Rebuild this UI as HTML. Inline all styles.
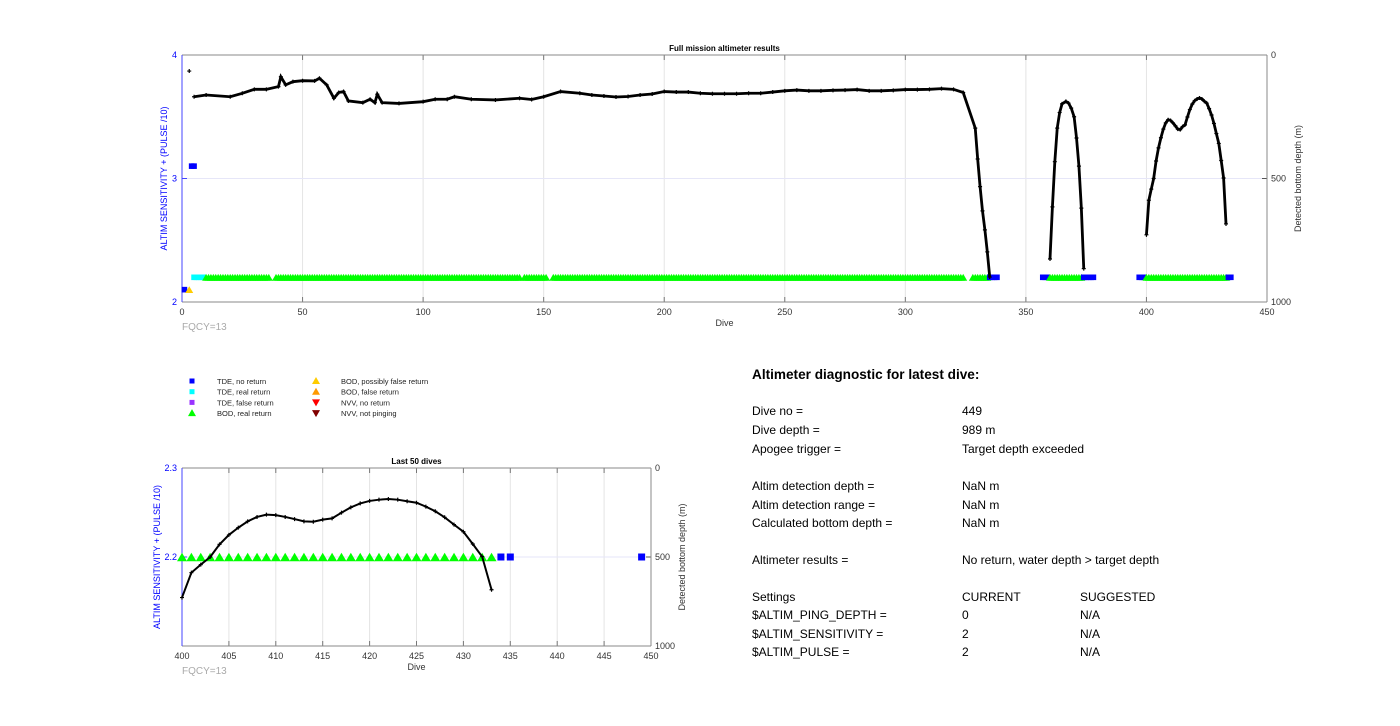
<!DOCTYPE html>
<html><head><meta charset="utf-8"><style>
body{margin:0;background:#fff;width:1400px;height:726px;overflow:hidden;font-family:"Liberation Sans",sans-serif}
svg{position:absolute;left:0;top:0}
.diag{position:absolute;font-size:12px;color:#000}
</style></head><body>
<svg id="chart" width="1400" height="726"></svg>
<div class="diag">
<div style="position:absolute;left:752px;top:367px;font-weight:bold;font-size:13.6px;white-space:nowrap">Altimeter diagnostic for latest dive:</div>
</div>
<script>
// ---- data ----
const mainDives=[5,10,20,25,30,35,40,41,43,46,50,55,57,60,63,65,67,69,75,78,80,81,83,90,100,105,110,113,120,130,140,145,150,157,165,170,175,180,185,190,195,200,205,210,215,220,225,230,235,240,245,250,255,260,265,270,275,280,285,290,295,300,305,310,315,320,324,329,330,331,332,333,334,335];
const mainDepth=[169,162,169,155,139,139,128,88,121,108,104,105,94,121,175,152,148,186,193,179,193,159,193,196,189,179,179,169,179,182,175,180,169,148,155,162,166,170,168,162,158,148,150,150,155,157,157,157,155,155,150,145,142,145,145,143,142,140,145,145,143,140,140,139,136,139,152,296,421,533,631,708,797,899];
const hump1Dives=[360,361,362,363,364,365,366.6,367.7,368.8,370,371,372,373,374];
const hump1Depth=[826,615,432,296,233,198,188,195,215,250,336,450,620,865];
const hump2Dives=[400,401,402,403,404,405,406,407,408,409,410,411,412,413,414,415,416,417,418,419,420,421,422,423,424,425,426,427,428,429,430,431,432,433];
const hump2Depth=[728,588,543,500,429,376,335,300,275,262,265,275,287,300,302,290,283,251,221,199,185,178,174,178,187,195,217,243,277,318,358,427,498,684];
const singleDive=[3], singleDepth=[65];
// symbol runs: [startDive,endDive,sensitivity,type]
const runStart=[1,3,4,5,10,39,142,154,328,335,357,360,374,397,400,434,449];
const runEnd  =[1,3,5,9,36,140,151,324,334,338,359,373,378,399,433,435,449];
const runSens =[2.1,2.1,3.1,2.2,2.2,2.2,2.2,2.2,2.2,2.2,2.2,2.2,2.2,2.2,2.2,2.2,2.2];
const runType =['tde-no','bod-pf','tde-no','tde-real','bod-real','bod-real','bod-real','bod-real','bod-real','tde-no','tde-no','bod-real','tde-no','tde-no','bod-real','tde-no','tde-no'];
const topXTicks=[0,50,100,150,200,250,300,350,400,450];
const topYTicks=[2,3,4];
const topDTicks=[0,500,1000];
const botXTicks=[400,405,410,415,420,425,430,435,440,445,450];
const botYTicks=[2.2,2.3];
const botDTicks=[0,500,1000];
const diagLabels=['Dive no =','Dive depth =','Apogee trigger =','Altim detection depth =','Altim detection range =','Calculated bottom depth =','Altimeter results =','Settings','$ALTIM_PING_DEPTH =','$ALTIM_SENSITIVITY =','$ALTIM_PULSE ='];
const diagValues=['449','989 m','Target depth exceeded','NaN m','NaN m','NaN m','No return, water depth > target depth','CURRENT','0','2','2'];
const diagSuggested=['','','','','','','','SUGGESTED','N/A','N/A','N/A'];
const diagTops=[411,430,449,486,505,523,560,597,615,634,652];

const NS='http://www.w3.org/2000/svg';
const svg=document.getElementById('chart');
function mk(tag,attrs,parent,text){const e=document.createElementNS(NS,tag);for(const k in attrs)e.setAttribute(k,attrs[k]);if(text!==undefined)e.textContent=text;(parent||svg).appendChild(e);return e;}
const colors={'tde-no':'#0000ff','tde-real':'#00ffff','tde-false':'#9933ff','bod-real':'#00ff00','bod-pf':'#ffcc00','bod-false':'#ff9900','nvv-no':'#ff0000','nvv-np':'#800000'};

function panel(cfg){
  const g=mk('g',{});
  
  
  const X=v=>cfg.x0+(v-cfg.xmin)/(cfg.xmax-cfg.xmin)*(cfg.x1-cfg.x0);
  const Y=v=>cfg.y1-(v-cfg.ymin)/(cfg.ymax-cfg.ymin)*(cfg.y1-cfg.y0);
  const D=v=>cfg.y0+v/1000*(cfg.y1-cfg.y0);
  cfg.xt.forEach(t=>{const x=X(t);
    if(t>cfg.xmin&&t<cfg.xmax){const l=mk('line',{x1:x,x2:x,y1:cfg.y0,y2:cfg.y1,stroke:'#e4e4e4','stroke-width':1},g);}
    mk('line',{x1:x,x2:x,y1:cfg.y1,y2:cfg.y1-5,stroke:'#777'},g);mk('line',{x1:x,x2:x,y1:cfg.y0,y2:cfg.y0+5,stroke:'#777'},g);
    const tx=mk('text',{x:x,y:cfg.y1+13,'font-size':9,'text-anchor':'middle',fill:'#333'},g,String(t));});
  cfg.yt.forEach(t=>{const y=Y(t);
    if(t>cfg.ymin&&t<cfg.ymax){const l=mk('line',{x1:cfg.x0,x2:cfg.x1,y1:y,y2:y,stroke:'#e6e6f8'},g);}
    mk('line',{x1:cfg.x0,x2:cfg.x0+5,y1:y,y2:y,stroke:'#4444ff'},g);
    const tx=mk('text',{x:cfg.x0-5,y:y+3,'font-size':9,'text-anchor':'end',fill:'#0000ff'},g,String(t));});
  cfg.dt.forEach(t=>{const y=D(t);
    mk('line',{x1:cfg.x1,x2:cfg.x1-5,y1:y,y2:y,stroke:'#555'},g);
    const tx=mk('text',{x:cfg.x1+4,y:y+3,'font-size':9,fill:'#333'},g,String(t));});
  mk('line',{x1:cfg.x0,x2:cfg.x1,y1:cfg.y0,y2:cfg.y0,stroke:'#888'},g);
  mk('line',{x1:cfg.x0,x2:cfg.x1,y1:cfg.y1,y2:cfg.y1,stroke:'#888'},g);
  mk('line',{x1:cfg.x1,x2:cfg.x1,y1:cfg.y0,y2:cfg.y1,stroke:'#888'},g);
  mk('line',{x1:cfg.x0,x2:cfg.x0,y1:cfg.y0,y2:cfg.y1,stroke:'#4444ff'},g);
  const cx=(cfg.x0+cfg.x1)/2, cy=(cfg.y0+cfg.y1)/2;
  let t=mk('text',{x:cx,y:cfg.y0-4,'font-size':8,'font-weight':'bold','text-anchor':'middle'},g,cfg.title);
  t=mk('text',{x:cx,y:cfg.y1+24,'font-size':9,'text-anchor':'middle',fill:'#333'},g,'Dive');
  t=mk('text',{x:cfg.x0,y:cfg.y1+28,'font-size':10,fill:'#aaa'},g,'FQCY=13');
  t=mk('text',{x:0,y:0,'font-size':9,'text-anchor':'middle',fill:'#0000ff',transform:`translate(${cfg.ylx},${cy}) rotate(-90)`},g,'ALTIM SENSITIVITY + (PULSE /10)');
  t=mk('text',{x:0,y:0,'font-size':9,'text-anchor':'middle',fill:'#333',transform:`translate(${cfg.x1+34},${cy}) rotate(-90)`},g,'Detected bottom depth (m)');
  // symbols
  const ms=cfg.ms;
  runStart.forEach((s,i)=>{for(let d=s;d<=runEnd[i];d++){
    if(d<cfg.xmin||d>cfg.dmaxSym)continue;
    const x=X(d),y=Y(runSens[i]),c=colors[runType[i]];let e;
    if(runType[i].startsWith('bod'))e=mk('polygon',{points:`${x-ms},${y+ms*0.85} ${x+ms},${y+ms*0.85} ${x},${y-ms*0.85}`,fill:c},g);
    else e=mk('rect',{x:x-ms*0.7,y:y-ms*0.7,width:ms*1.4,height:ms*1.4,fill:c},g);
    }});
  // lines
  [[mainDives,mainDepth],[hump1Dives,hump1Depth],[hump2Dives,hump2Depth],[singleDive,singleDepth]].forEach((s,k)=>{
    const pts=[];s[0].forEach((d,i)=>{if(d>=cfg.xmin&&d<=cfg.xmax)pts.push([X(d),D(s[1][i])]);});
    if(!pts.length)return;
    const p=mk('polyline',{points:pts.map(q=>q.join(',')).join(' '),fill:'none',stroke:'#000','stroke-width':cfg.lw},g);
    
    pts.forEach(q=>{const m=mk('path',{d:`M${q[0]-2},${q[1]}h4M${q[0]},${q[1]-2}v4`,stroke:'#000','stroke-width':1.2},g);});
  });
}
panel({name:'full-mission-chart',title:'Full mission altimeter results',x0:182,x1:1267,y0:55,y1:302,xmin:0,xmax:450,ymin:2,ymax:4,xt:topXTicks,yt:topYTicks,dt:topDTicks,ms:4,lw:2.8,dmaxSym:440,ylx:167});
panel({name:'last-50-dives-chart',title:'Last 50 dives',x0:182,x1:651,y0:468,y1:646,xmin:400,xmax:450,ymin:2.1,ymax:2.3,xt:botXTicks,yt:botYTicks,dt:botDTicks,ms:5,lw:2,dmaxSym:450,ylx:160});
// legend
const legTypes=['tde-no','tde-real','tde-false','bod-real','bod-pf','bod-false','nvv-no','nvv-np'];
const legText=['TDE, no return','TDE, real return','TDE, false return','BOD, real return','BOD, possibly false return','BOD, false return','NVV, no return','NVV, not pinging'];
const lg=mk('g',{});
legTypes.forEach((tp,i)=>{const col=Math.floor(i/4),row=i%4;const x=192+col*124,y=381+row*10.7;const c=colors[tp];let e;
  if(tp.startsWith('tde'))e=mk('rect',{x:x-2.5,y:y-2.5,width:5,height:5,fill:c},lg);
  else if(tp.startsWith('bod'))e=mk('polygon',{points:`${x-4},${y+3} ${x+4},${y+3} ${x},${y-4}`,fill:c},lg);
  else e=mk('polygon',{points:`${x-4},${y-3} ${x+4},${y-3} ${x},${y+4}`,fill:c},lg);
  
  const t=mk('text',{x:x+25,y:y+3,'font-size':7.5,fill:'#222'},lg,legText[i]);});
// diagnostic text
const dp=document.querySelector('.diag');
diagLabels.forEach((l,i)=>{[[752,l],[962,diagValues[i]],[1080,diagSuggested[i]]].forEach((c,j)=>{if(!c[1])return;const d=document.createElement('div');
  d.style.cssText=`position:absolute;left:${c[0]}px;top:${diagTops[i]-7}px;white-space:nowrap`;d.textContent=c[1];
  
  
  dp.appendChild(d);});});
</script>
</body></html>
